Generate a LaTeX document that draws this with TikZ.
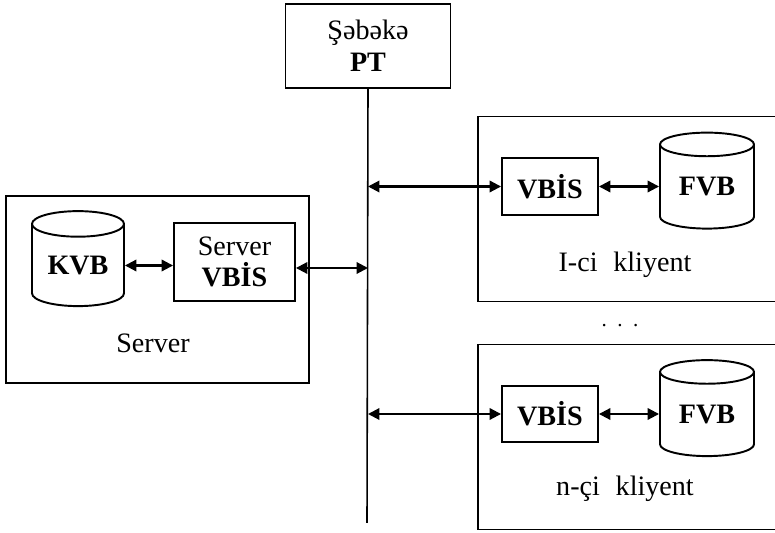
\documentclass[tikz,border=0pt]{standalone}
\usepackage{fontspec}
\setmainfont{Liberation Serif}
\usetikzlibrary{arrows.meta, positioning, shapes.geometric}

\begin{document}
\begin{tikzpicture}[x=0.02cm, y=-0.02cm, >={Triangle[length=6.5pt, width=6.5pt]},
      box/.style={draw, line width=1.1pt, align=center, inner sep=0pt,
                  font=\fontsize{16}{18}\selectfont},
      frame/.style={draw, line width=1.1pt, inner sep=0pt},
      db/.style={draw, line width=1.1pt, cylinder, shape border rotate=90, aspect=0.42,
                 inner sep=0pt, font=\fontsize{16}{18}\selectfont\bfseries},
      lbl/.style={font=\fontsize{16}{18}\selectfont},
      link/.style={<->, line width=1.2pt}]

    \useasboundingbox (0,0) rectangle (775,533);
    \clip (0,0) rectangle (775,533);

    % ---- Network + bus ----
    \node[box, minimum width=3.3cm, minimum height=1.68cm] (net) at (368,46)
         {Şəbəkə\\\textbf{PT}};
    \coordinate (busbot) at (367,523);
    \draw[line width=0.9pt] (net.south) -- (busbot);

    % ---- Server ----
    \node[frame, minimum width=6.06cm, minimum height=3.74cm] (srv) at (157.5,289.5) {};
    \node[db, minimum width=1.84cm, minimum height=1.9cm] (kvb) at (78,265.5) {KVB};
    \node[box, minimum width=2.42cm, minimum height=1.56cm] (svbis) at (234.5,262)
         {Server\\\textbf{VBİS}};
    \node[lbl] (srvlbl) at (153,343) {Server};

    \draw[link] (kvb.east) -- (kvb.east -| svbis.west);
    \draw[link] ([yshift=-1.2mm]svbis.east) -- ([yshift=-1.2mm]svbis.east -| net.south);

    % ---- Clients ----
    \foreach \nm/\cy/\vy/\dy/\ly/\txt in {A/209/186.5/187/265/I-ci\hspace{9pt}kliyent,
                                           N/437/414/414.5/489/n-çi\hspace{9pt}kliyent}{
      \node[frame, minimum width=6.14cm, minimum height=3.7cm] (cl\nm) at (631.5,\cy) {};
      \node[box, font=\fontsize{16}{18}\selectfont\bfseries,
            minimum width=1.92cm, minimum height=1.13cm] (vbis\nm) at (550,\vy) {VBİS};
      \node[db, minimum width=1.88cm, minimum height=1.92cm] (fvb\nm) at (707,\dy) {FVB};
      \node[lbl] (cl\nm lbl) at (625,\ly) {\txt};
      \draw[link] (vbis\nm.west) -- (vbis\nm.west -| net.south);
      \draw[link] (vbis\nm.east) -- (vbis\nm.east -| fvb\nm.west);
    }

    \node[font=\fontsize{12}{14}\selectfont] (dots) at (620,326) {.\hspace{6pt}.\hspace{6pt}.};

    \end{tikzpicture}
\end{document}
